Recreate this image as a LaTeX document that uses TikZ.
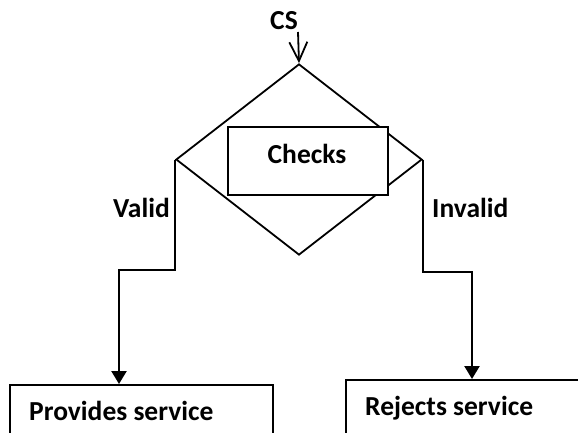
\documentclass[tikz,border=0pt]{standalone}
\usepackage{fontspec}
\setmainfont{Carlito}
\usetikzlibrary{shapes.geometric,arrows.meta}
\begin{document}
\begin{tikzpicture}[x=1pt,y=-1pt,
  lbl/.style={font=\fontsize{27.5}{32}\selectfont\bfseries, inner sep=0pt},
  dia/.style={draw, diamond, line width=1.8pt, inner sep=0pt, minimum width=246pt, minimum height=191pt},
  chkbox/.style={draw, fill=white, line width=1.8pt, inner sep=0pt, minimum width=160pt, minimum height=68pt},
  outbox/.style={draw, line width=2pt, inner sep=0pt, anchor=north west},
  conn/.style={line width=2.4pt, -{Triangle[length=13pt,width=15pt]}},
  inarr/.style={line width=1.8pt, -{Straight Barb[length=19pt,width=18pt,line width=1.8pt]}}
]
\useasboundingbox (0,0) rectangle (578,433);
\clip (0,0) rectangle (578,433);
\fill[white] (0,0) rectangle (578,433);

\node[dia] (dec) at (299,159.5) {};
\node[chkbox] (chk) at (308,161) {};
\node[lbl, anchor=base] (chkt) at (307,163) {Checks};

\node[lbl, anchor=base] (cs) at (284,30) {CS};
\coordinate (csin) at (298,32);
\draw[inarr] (csin) -- (dec.north);

\node[outbox, minimum width=263pt, minimum height=100pt] (prov) at (9,384) {};
\node[lbl, anchor=base west] (provt) at (29,420) {Provides service};
\node[outbox, minimum width=260pt, minimum height=100pt] (rej) at (345,379) {};
\node[lbl, anchor=base west] (rejt) at (365,415) {Rejects service};

\coordinate (lb) at (119,270);
\coordinate (rb) at (472,272);
\draw[conn] (dec.west) |- (lb) -- (lb |- prov.north);
\draw[conn] (dec.east) |- (rb) -- (rb |- rej.north);

\node[lbl, anchor=base west] (valid) at (113,217) {Valid};
\node[lbl, anchor=base west] (invalid) at (432,217) {Invalid};
\end{tikzpicture}
\end{document}
